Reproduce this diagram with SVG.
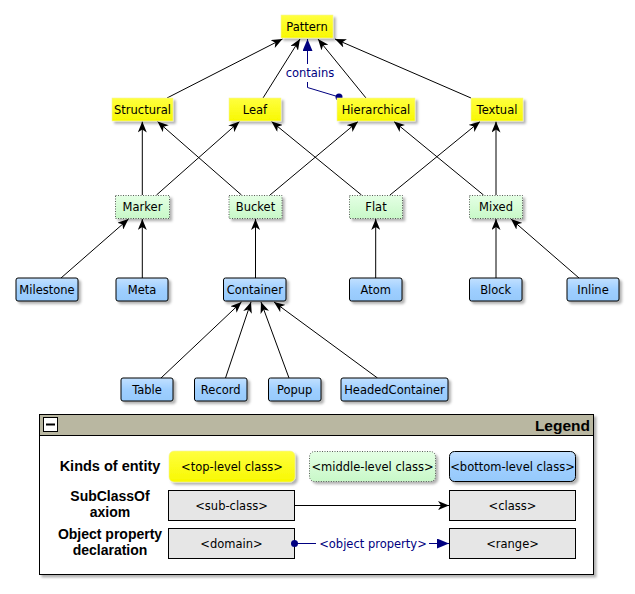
<svg xmlns="http://www.w3.org/2000/svg" width="635" height="594" viewBox="0 0 635 594">
  <defs>
    <filter id="shadow" x="-20%" y="-30%" width="150%" height="170%">
      <feDropShadow dx="2.5" dy="2.5" stdDeviation="1.2" flood-color="#000" flood-opacity="0.3"/>
    </filter>
    <linearGradient id="gBlue" x1="0" y1="0" x2="0" y2="1">
      <stop offset="0" stop-color="#c2e0ff"/>
      <stop offset="0.5" stop-color="#9fcfff"/>
      <stop offset="1" stop-color="#96c9fb"/>
    </linearGradient>
    <linearGradient id="gGreen" x1="0" y1="0" x2="0" y2="1">
      <stop offset="0" stop-color="#e4ffe4"/>
      <stop offset="1" stop-color="#c8f8c8"/>
    </linearGradient>
    <linearGradient id="gYellow" x1="0" y1="0" x2="0" y2="1">
      <stop offset="0" stop-color="#ffff40"/>
      <stop offset="1" stop-color="#f8f800"/>
    </linearGradient>
    <marker id="arrow" viewBox="0 0 11 9" refX="11" refY="4.5" markerWidth="11" markerHeight="9" markerUnits="userSpaceOnUse" orient="auto">
      <path d="M11,4.5 L0,0 L3,4.5 L0,9 Z" fill="#000"/>
    </marker>
    <marker id="tri" viewBox="0 0 12 10" refX="12" refY="5" markerWidth="12" markerHeight="10" markerUnits="userSpaceOnUse" orient="auto">
      <path d="M12,5 L0,0 L0,10 Z" fill="#000080"/>
    </marker>
  </defs>
  <style>
    .lbl { font-family: "DejaVu Sans", Verdana, sans-serif; font-size: 11.5px; fill: #000; text-anchor: middle; }
    .top rect { fill: url(#gYellow); stroke: #f4f4a0; stroke-width: 0.6; filter: url(#shadow); }
    .mid rect { fill: url(#gGreen); stroke: #333; stroke-width: 0.8; stroke-dasharray: 1 1.5; filter: url(#shadow); }
    .bot rect { fill: url(#gBlue); stroke: #000; stroke-width: 1; filter: url(#shadow); }
    .edge { stroke: #000; stroke-width: 1; fill: none; marker-end: url(#arrow); }
    .prop { stroke: #000080; stroke-width: 1; fill: none; }
    .propText { font-family: "DejaVu Sans", Verdana, sans-serif; font-size: 11.5px; fill: #000080; text-anchor: middle; }
    .legHead { font-family: "Liberation Sans", Arial, sans-serif; font-weight: bold; font-size: 14.5px; fill: #000; text-anchor: middle; }
    .legHead2 { font-family: "Liberation Sans", Arial, sans-serif; font-weight: bold; font-size: 14px; fill: #000; text-anchor: middle; }
    .gray { fill: #e6e6e6; stroke: #000; stroke-width: 1; }
  </style>

  <!-- connectors -->
  <g id="connectors">
    <!-- second level to Pattern -->
    <line class="edge" x1="167" y1="98" x2="282.5" y2="39"/>
    <line class="edge" x1="263" y1="98" x2="300" y2="39"/>
    <line class="edge" x1="366" y1="98" x2="318" y2="39"/>
    <line class="edge" x1="471" y1="98" x2="335" y2="39"/>
    <!-- contains property -->
    <polyline class="prop" points="339,97 307.5,87.5 307.5,82"/>
    <line class="prop" x1="307.5" y1="64" x2="307.5" y2="39" marker-end="url(#tri)"/>
    <circle cx="339" cy="97" r="3.5" fill="#000080"/>
    <text class="propText" x="310" y="77">contains</text>
    <!-- middle level to second level -->
    <line class="edge" x1="142.3" y1="195" x2="142.3" y2="121.5"/>
    <line class="edge" x1="241.5" y1="195" x2="157.5" y2="121.5"/>
    <line class="edge" x1="156.5" y1="195" x2="239.5" y2="121.5"/>
    <line class="edge" x1="270" y1="195" x2="358" y2="121.5"/>
    <line class="edge" x1="361.5" y1="195" x2="271.5" y2="121.5"/>
    <line class="edge" x1="390" y1="195" x2="480" y2="121.5"/>
    <line class="edge" x1="483.5" y1="195" x2="394" y2="121.5"/>
    <line class="edge" x1="496" y1="195" x2="496" y2="121.5"/>
    <!-- bottom level to middle level -->
    <line class="edge" x1="61" y1="278" x2="128.5" y2="219"/>
    <line class="edge" x1="142.3" y1="278" x2="142.3" y2="219"/>
    <line class="edge" x1="255.5" y1="278" x2="255.5" y2="219"/>
    <line class="edge" x1="375.7" y1="278" x2="375.7" y2="219"/>
    <line class="edge" x1="496" y1="278" x2="496" y2="219"/>
    <line class="edge" x1="579" y1="278" x2="511" y2="219"/>
    <!-- sub-classes of Container -->
    <line class="edge" x1="161" y1="378" x2="241.5" y2="302"/>
    <line class="edge" x1="225.5" y1="378" x2="251" y2="302"/>
    <line class="edge" x1="289" y1="378" x2="261" y2="302"/>
    <line class="edge" x1="377.5" y1="378" x2="274" y2="302"/>
  </g>

  <!-- top level -->
  <g id="Pattern" class="top"><rect x="281" y="15" width="52" height="23"/><text class="lbl" x="307" y="31">Pattern</text></g>
  <g id="Structural" class="top"><rect x="112" y="98" width="61" height="23"/><text class="lbl" x="142.5" y="114">Structural</text></g>
  <g id="Leaf" class="top"><rect x="229" y="98" width="52" height="23"/><text class="lbl" x="255" y="114">Leaf</text></g>
  <g id="Hierarchical" class="top"><rect x="337" y="98" width="78" height="23"/><text class="lbl" x="376" y="114">Hierarchical</text></g>
  <g id="Textual" class="top"><rect x="471" y="98" width="52" height="23"/><text class="lbl" x="497" y="114">Textual</text></g>

  <!-- middle level -->
  <g id="Marker" class="mid"><rect x="115.5" y="195.5" width="54" height="23"/><text class="lbl" x="142.5" y="211">Marker</text></g>
  <g id="Bucket" class="mid"><rect x="229" y="195.5" width="53" height="23"/><text class="lbl" x="255.5" y="211">Bucket</text></g>
  <g id="Flat" class="mid"><rect x="349.5" y="195.5" width="53" height="23"/><text class="lbl" x="376" y="211">Flat</text></g>
  <g id="Mixed" class="mid"><rect x="469.5" y="195.5" width="53" height="23"/><text class="lbl" x="496" y="211">Mixed</text></g>

  <!-- bottom level -->
  <g id="Milestone" class="bot"><rect x="16" y="278" width="62" height="23" rx="2"/><text class="lbl" x="47" y="294">Milestone</text></g>
  <g id="Meta" class="bot"><rect x="116" y="278" width="52" height="23" rx="2"/><text class="lbl" x="142" y="294">Meta</text></g>
  <g id="Container" class="bot"><rect x="223.5" y="278" width="62.5" height="23" rx="2"/><text class="lbl" x="254.8" y="294">Container</text></g>
  <g id="Atom" class="bot"><rect x="349.5" y="278" width="52.5" height="23" rx="2"/><text class="lbl" x="375.7" y="294">Atom</text></g>
  <g id="Block" class="bot"><rect x="469.5" y="278" width="52.5" height="23" rx="2"/><text class="lbl" x="495.7" y="294">Block</text></g>
  <g id="Inline" class="bot"><rect x="567" y="278" width="52" height="23" rx="2"/><text class="lbl" x="593" y="294">Inline</text></g>
  <g id="Table" class="bot"><rect x="121" y="378" width="52" height="23" rx="2"/><text class="lbl" x="147" y="394">Table</text></g>
  <g id="Record" class="bot"><rect x="194.5" y="378" width="52.5" height="23" rx="2"/><text class="lbl" x="220.7" y="394">Record</text></g>
  <g id="Popup" class="bot"><rect x="268.5" y="378" width="52.5" height="23" rx="2"/><text class="lbl" x="294.7" y="394">Popup</text></g>
  <g id="HeadedContainer" class="bot"><rect x="341" y="378" width="107" height="23" rx="2"/><text class="lbl" x="394.5" y="394">HeadedContainer</text></g>

  <!-- legend panel -->
  <g id="legend">
    <rect x="39.5" y="414.5" width="554" height="160" fill="#fff" stroke="#000" stroke-width="1" filter="url(#shadow)"/>
    <rect x="39.5" y="414.5" width="554" height="21" fill="#b9b7a1" stroke="#000" stroke-width="1"/>
    <rect x="43.5" y="417.5" width="14" height="14" fill="#fff" stroke="#000" stroke-width="1"/>
    <line x1="46" y1="424.5" x2="55" y2="424.5" stroke="#000" stroke-width="2"/>
    <text x="590" y="431" font-family="'Liberation Sans', Arial, sans-serif" font-weight="bold" font-size="15.5" text-anchor="end">Legend</text>

    <text class="legHead" x="110" y="471">Kinds of entity</text>
    <text class="legHead2" x="110" y="501">SubClassOf</text>
    <text class="legHead2" x="110" y="517">axiom</text>
    <text class="legHead2" x="110" y="539">Object property</text>
    <text class="legHead2" x="110" y="555">declaration</text>

    <g class="top"><rect x="169" y="451" width="126" height="31" rx="5"/></g>
    <text class="lbl" x="232" y="471">&lt;top-level class&gt;</text>
    <g class="mid"><rect x="309.5" y="451.5" width="126" height="30" rx="5"/></g>
    <text class="lbl" x="372.5" y="471">&lt;middle-level class&gt;</text>
    <g class="bot"><rect x="449.5" y="451.5" width="126" height="30" rx="5"/></g>
    <text class="lbl" x="512.5" y="471">&lt;bottom-level class&gt;</text>

    <rect class="gray" x="168.5" y="490.5" width="126" height="30"/>
    <text class="lbl" x="231.5" y="510">&lt;sub-class&gt;</text>
    <rect class="gray" x="449.5" y="490.5" width="126" height="30"/>
    <text class="lbl" x="512.5" y="510">&lt;class&gt;</text>
    <line class="edge" x1="294.5" y1="505.5" x2="449" y2="505.5"/>

    <rect class="gray" x="168.5" y="528.5" width="126" height="30"/>
    <text class="lbl" x="231.5" y="548">&lt;domain&gt;</text>
    <rect class="gray" x="449.5" y="528.5" width="126" height="30"/>
    <text class="lbl" x="512.5" y="548">&lt;range&gt;</text>
    <line class="prop" x1="294" y1="543.5" x2="316" y2="543.5"/>
    <line class="prop" x1="429" y1="543.5" x2="449" y2="543.5" marker-end="url(#tri)"/>
    <circle cx="294.5" cy="543.5" r="3.5" fill="#000080"/>
    <text class="propText" x="373" y="548">&lt;object property&gt;</text>
  </g>
</svg>
